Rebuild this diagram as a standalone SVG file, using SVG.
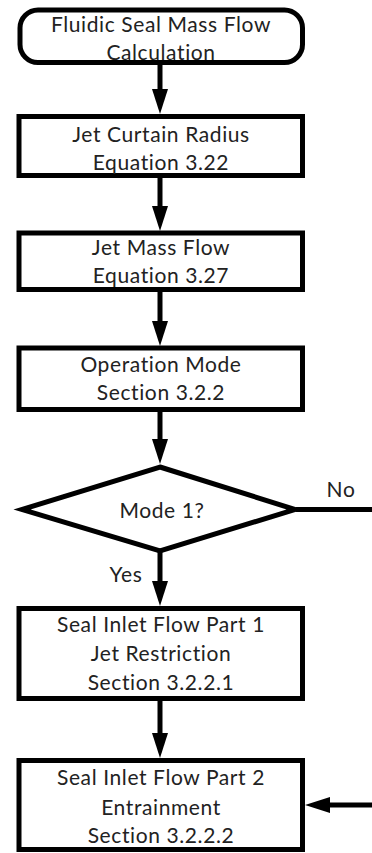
<svg xmlns="http://www.w3.org/2000/svg" width="372" height="853" viewBox="0 0 372 853">
<style>
.shape{fill:#fff;stroke:#000;stroke-width:5}
.line{fill:none;stroke:#000;stroke-width:5}
text{font-family:Lato,"Liberation Sans",sans-serif;font-size:21px;letter-spacing:0.6px;font-variant-ligatures:none;fill:#222;text-anchor:middle}
</style>
<defs>
<marker id="ah" markerUnits="userSpaceOnUse" markerWidth="26" markerHeight="16" viewBox="0 0 25 16" refX="5" refY="8" orient="auto">
<path d="M0,0 L25,8 L0,16 z" fill="#000"/>
</marker>
</defs>
<rect width="372" height="853" fill="#fff"/>
<g id="connectors">
<line class="line" x1="160" y1="63" x2="160" y2="94" marker-end="url(#ah)"/>
<line class="line" x1="160" y1="178" x2="160" y2="211" marker-end="url(#ah)"/>
<line class="line" x1="160" y1="292" x2="160" y2="326" marker-end="url(#ah)"/>
<line class="line" x1="160" y1="412" x2="160" y2="444" marker-end="url(#ah)"/>
<line class="line" x1="160" y1="551" x2="160" y2="586" marker-end="url(#ah)"/>
<line class="line" x1="160" y1="701" x2="160" y2="738" marker-end="url(#ah)"/>
<line class="line" x1="296" y1="509.5" x2="372" y2="509.5"/>
<line class="line" x1="372" y1="805" x2="325" y2="805" marker-end="url(#ah)"/>
<text x="341" y="497">No</text>
<text x="126" y="582">Yes</text>
</g>
<g id="start">
<rect class="shape" x="20" y="10" width="282.5" height="52.5" rx="18"/>
<text x="161" y="32">Fluidic Seal Mass Flow</text>
<text x="161" y="60">Calculation</text>
</g>
<g id="radius">
<rect class="shape" x="19" y="116.5" width="283.5" height="59"/>
<text x="161" y="142">Jet Curtain Radius</text>
<text x="161" y="170">Equation 3.22</text>
</g>
<g id="jetflow">
<rect class="shape" x="19" y="233" width="283.5" height="56.5"/>
<text x="161" y="255">Jet Mass Flow</text>
<text x="161" y="283">Equation 3.27</text>
</g>
<g id="mode">
<rect class="shape" x="19" y="348" width="283.5" height="61.5"/>
<text x="161" y="372">Operation Mode</text>
<text x="161" y="400">Section 3.2.2</text>
</g>
<g id="decision">
<polygon class="shape" points="160,467 295,509.5 160,551 22,509.5"/>
<text x="162" y="518">Mode 1?</text>
</g>
<g id="part1">
<rect class="shape" x="19" y="608.5" width="283.5" height="90"/>
<text x="161" y="632">Seal Inlet Flow Part 1</text>
<text x="161" y="661">Jet Restriction</text>
<text x="161" y="690">Section 3.2.2.1</text>
</g>
<g id="part2">
<rect class="shape" x="19" y="760.5" width="283.5" height="89"/>
<text x="161" y="785">Seal Inlet Flow Part 2</text>
<text x="161" y="815">Entrainment</text>
<text x="161" y="843">Section 3.2.2.2</text>
</g>
</svg>
